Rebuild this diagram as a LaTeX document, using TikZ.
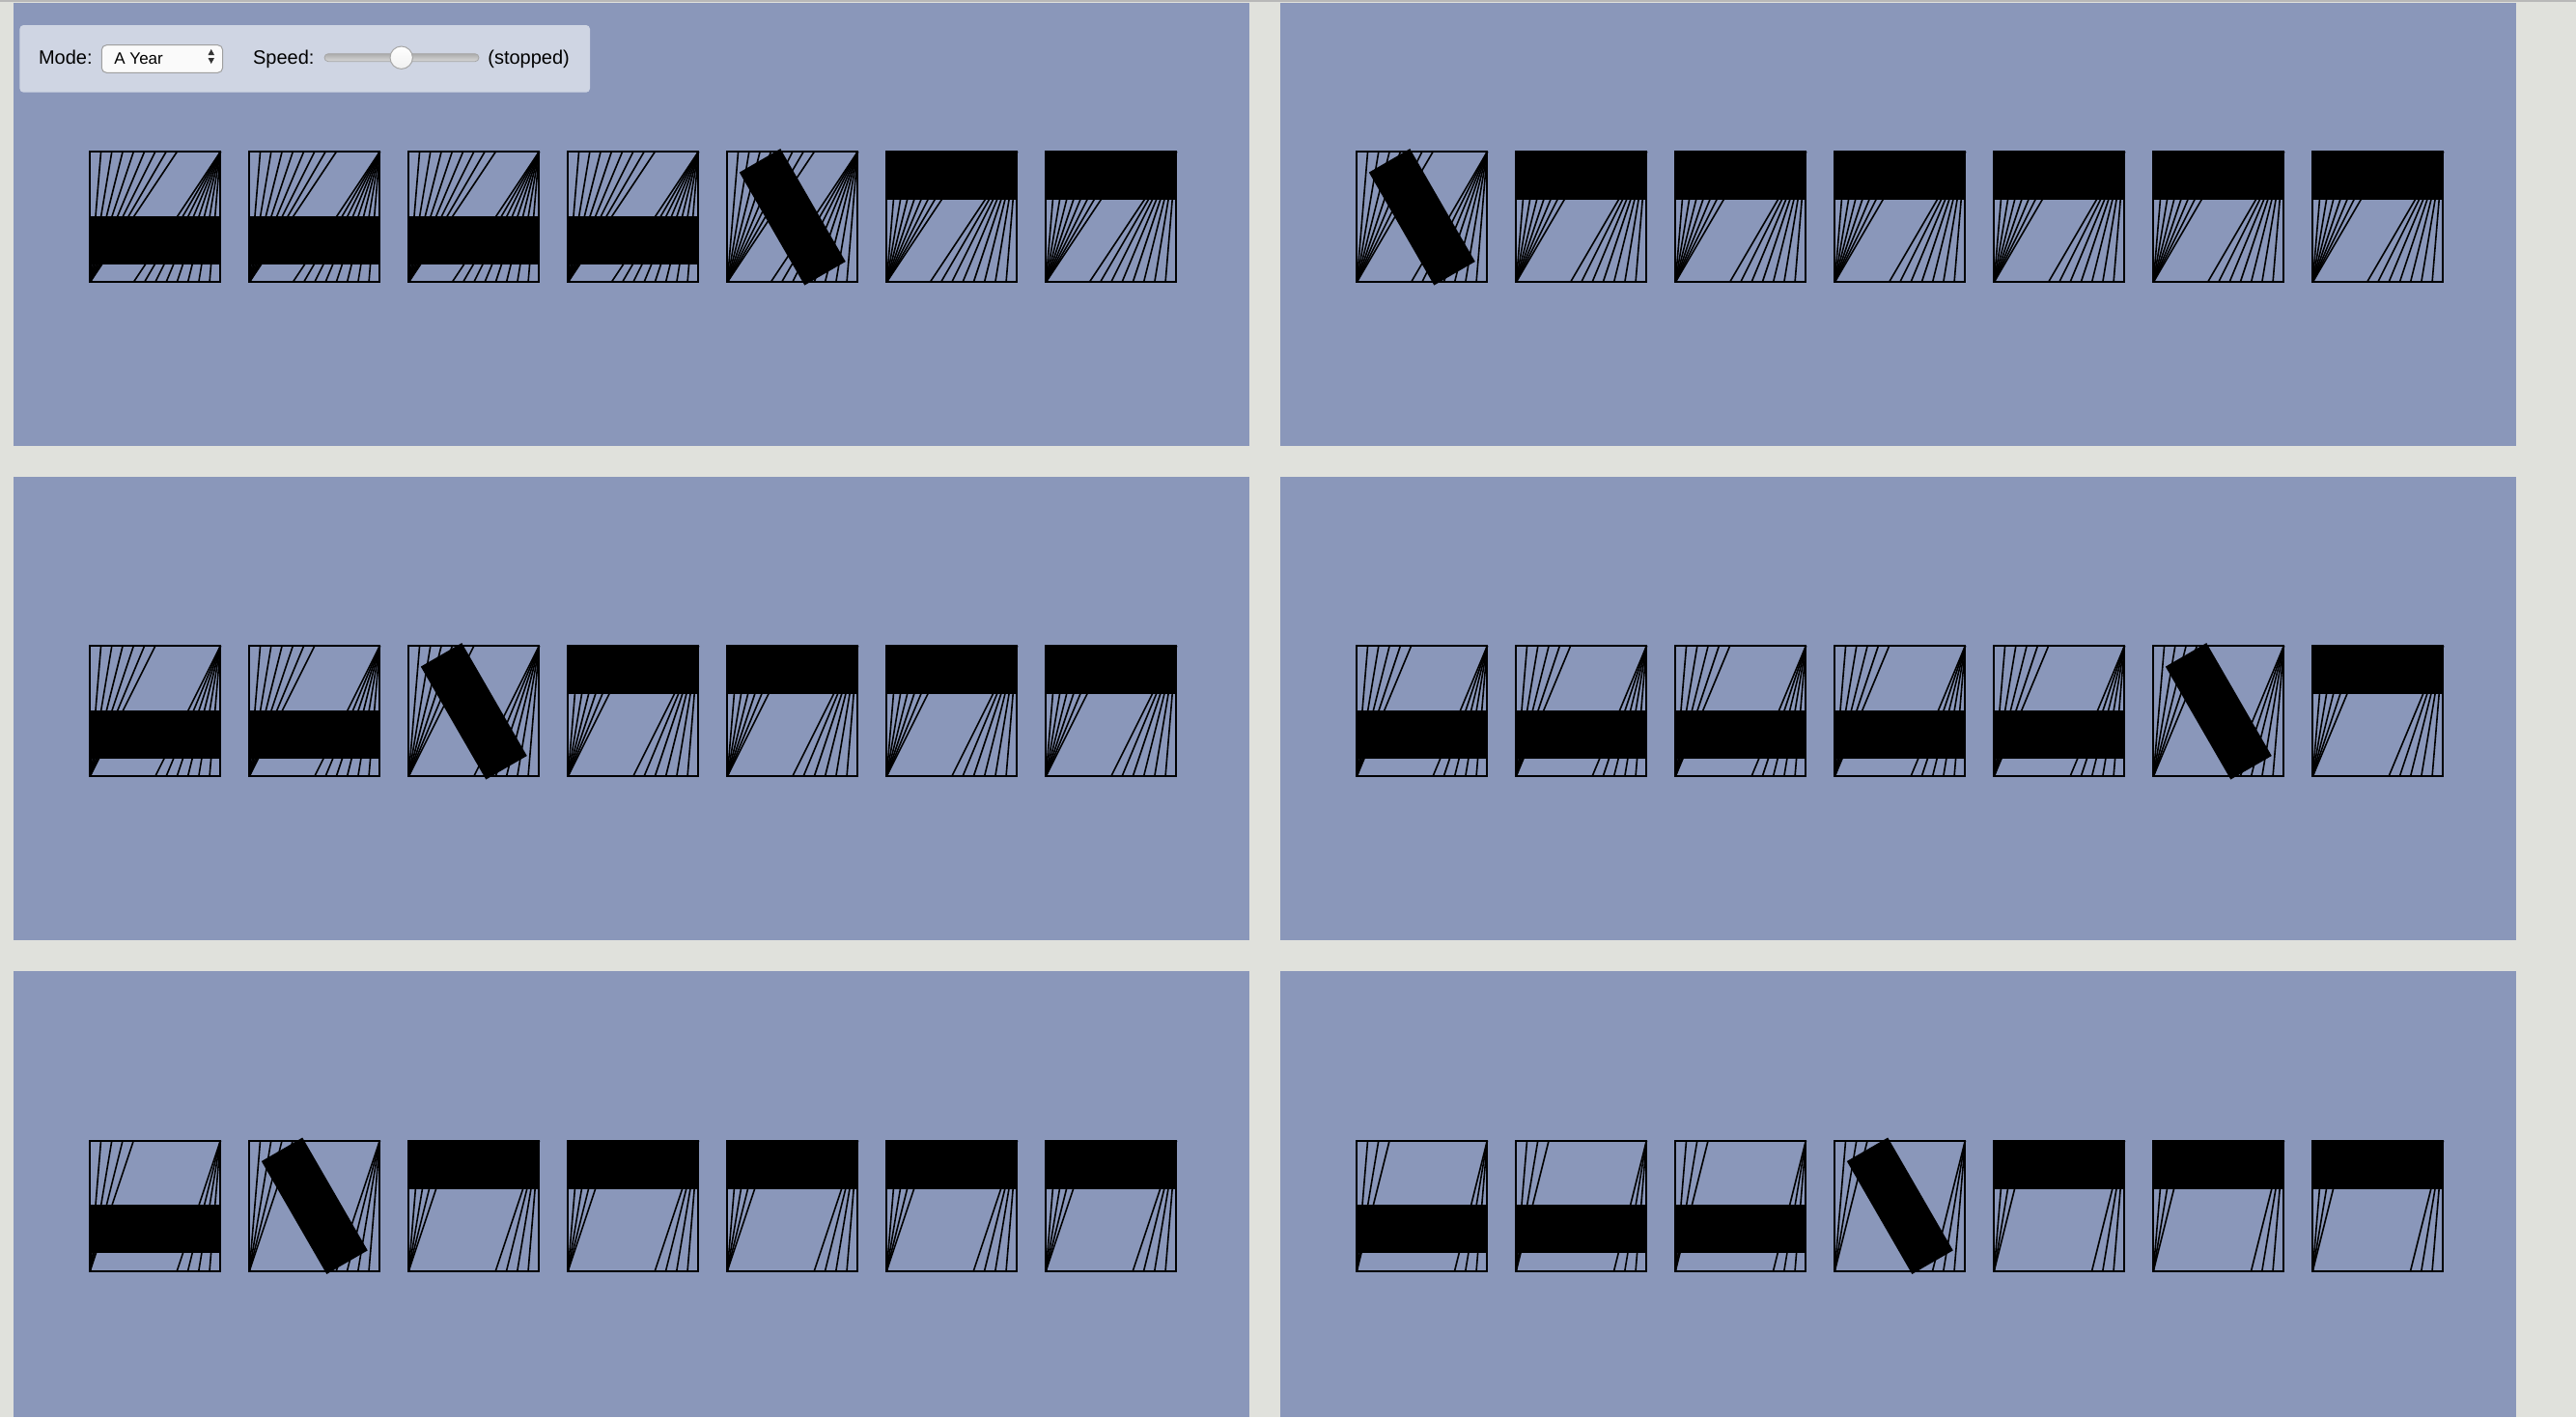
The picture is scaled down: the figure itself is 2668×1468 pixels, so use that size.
\documentclass[tikz,border=0pt]{standalone}
\usepackage{fontspec}
\setmainfont{Liberation Sans}
\definecolor{pagebg}{HTML}{E0E1DC}
\definecolor{panelbg}{HTML}{8A97BA}
\definecolor{ctrlbg}{HTML}{CFD5E3}
\definecolor{topline}{HTML}{B8B8B8}
\tikzset{
  fanline/.style={line width=0.8pt, black},
  boxline/.style={line width=1.1pt, black},
  barfill/.style={fill=black},
  uitext/.style={anchor=base west, inner sep=0pt, font=\fontsize{10}{12}\selectfont, text=black},
  seltext/.style={anchor=base west, inner sep=0pt, font=\fontsize{8.5}{10}\selectfont, text=black},
}
\newcommand\glyphbox[4]{%
  \begin{scope}[shift={(#1,#2)}]
    \foreach \k in {1,...,#3}{
      \draw[fanline] (0,135) -- ({135*\k/12},0);
      \draw[fanline] (135,0) -- ({135-135*\k/12},135);
    }
    \draw[boxline] (0,0) rectangle (135,135);
    \ifcase#4
      \fill[barfill] (0,66.7) rectangle (135,116.6);
    \or
      \fill[barfill] (12.53,21.29) -- (54.97,-3.21) -- (122.47,113.71) -- (80.03,138.21) -- cycle;
    \else
      \fill[barfill] (0,0) rectangle (135,49.8);
    \fi
  \end{scope}}
\begin{document}
\begin{tikzpicture}[x=0.5pt,y=-0.5pt]
\useasboundingbox (0,0) rectangle (2668,1468);
\fill[pagebg] (0,0) rectangle (2668,1468);
\fill[topline] (0,0) rectangle (2668,1.5);
% panels
\foreach \px in {13.6,1326}{
  \fill[panelbg] (\px,3.3) rectangle ({\px+1280},462);
  \fill[panelbg] (\px,494) rectangle ({\px+1280},974);
  \fill[panelbg] (\px,1006) rectangle ({\px+1280},1468);
}
% glyphs
\foreach \bx/\by/\n/\states in {
  93.3/157.3/8/{0,0,0,0,1,2,2},
  1405.3/157.3/7/{1,2,2,2,2,2,2},
  93.3/669.3/6/{0,0,1,2,2,2,2},
  1405.3/669.3/5/{0,0,0,0,0,1,2},
  93.3/1181.7/4/{0,1,2,2,2,2,2},
  1405.3/1181.7/3/{0,0,0,1,2,2,2}}{
  \foreach \s [count=\i from 0] in \states {
    \glyphbox{\bx+165*\i}{\by}{\n}{\s}
  }
}
% control panel
\fill[ctrlbg, rounded corners=2pt] (20.4,26) rectangle (611,95.7);
\node[uitext] (modelabel) at (39.6,66.7) {Mode:};
\draw[fill=white!96!gray, draw=gray!75, line width=0.5pt, rounded corners=2.5pt] (105.3,46.7) rectangle (230.6,75.3);
\node[seltext] (modevalue) at (118,66) {A Year};
\fill[black!80] (215.5,57) -- (222,57) -- (218.75,51) -- cycle;
\fill[black!80] (215.5,60) -- (222,60) -- (218.75,66) -- cycle;
\node[uitext] (speedlabel) at (261.7,66.7) {Speed:};
\shade[top color=gray!65, bottom color=gray!30, draw=gray!70, line width=0.4pt, rounded corners=2pt] (336,55.7) rectangle (496,63.7);
\draw[top color=white, bottom color=gray!12, draw=gray!70, line width=0.5pt] (415.7,59.7) circle[radius=5.85pt];
\node[uitext] (speedstate) at (505,66.7) {(stopped)};
\end{tikzpicture}
\end{document}
